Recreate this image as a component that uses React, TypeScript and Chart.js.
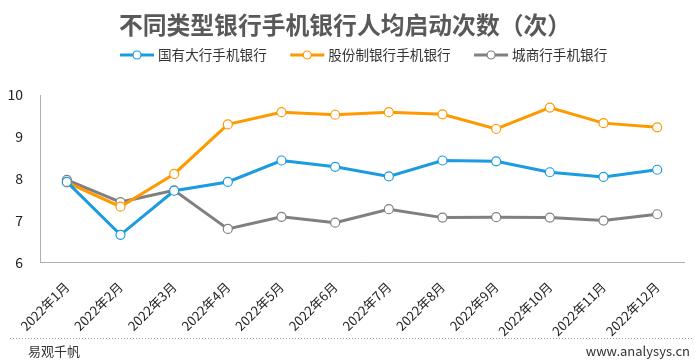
import React, { useEffect, useRef } from "react";
import { Chart, registerables } from "chart.js";
Chart.register(...registerables);

const categories = ["2022年1月","2022年2月","2022年3月","2022年4月","2022年5月","2022年6月","2022年7月","2022年8月","2022年9月","2022年10月","2022年11月","2022年12月"];
const stateBanks = [7.93, 6.67, 7.72, 7.93, 8.44, 8.29, 8.06, 8.44, 8.42, 8.16, 8.05, 8.22];
const jointBanks = [7.92, 7.34, 8.12, 9.3, 9.59, 9.53, 9.59, 9.54, 9.19, 9.7, 9.33, 9.23];
const cityBanks = [7.98, 7.45, 7.73, 6.81, 7.1, 6.96, 7.28, 7.08, 7.09, 7.08, 7.01, 7.16];
const seriesNames = ["国有大行手机银行", "股份制银行手机银行", "城商行手机银行"];
const colors = ["#1b9be0", "#ff9900", "#808080"];
const yTicks = [6, 7, 8, 9, 10];
const titleText = "不同类型银行手机银行人均启动次数（次）";

export default function App() {
  const ref = useRef<HTMLCanvasElement>(null);
  useEffect(() => {
    document.body.style.margin = "0";
    const font = "'Noto Sans CJK SC', 'Noto Sans', sans-serif";
    const decor = {
      id: "decor",
      afterDraw(chart: any) {
        const ctx = chart.ctx;
        ctx.save();
        // title
        ctx.fillStyle = "#595959";
        ctx.font = "bold 23.8px " + font;
        ctx.textAlign = "center"; ctx.textBaseline = "middle";
        ctx.fillText(titleText, 345, 25);
        // legend
        ctx.font = "13.6px " + font;
        ctx.textAlign = "left";
        let x = 120;
        const y = 55;
        seriesNames.forEach((n, i) => {
          ctx.strokeStyle = colors[i]; ctx.lineWidth = 3;
          ctx.beginPath(); ctx.moveTo(x, y); ctx.lineTo(x + 34, y); ctx.stroke();
          ctx.fillStyle = "#fff"; ctx.lineWidth = 1.2;
          ctx.beginPath(); ctx.arc(x + 17, y, 4, 0, Math.PI * 2); ctx.fill(); ctx.stroke();
          ctx.fillStyle = "#333";
          ctx.fillText(n, x + 38, y);
          x += 38 + ctx.measureText(n).width + 23.5;
        });
        // footer
        ctx.strokeStyle = "#9a9a9a"; ctx.lineWidth = 1; ctx.setLineDash([1, 2]);
        ctx.beginPath(); ctx.moveTo(10, 338.5); ctx.lineTo(692, 338.5); ctx.stroke();
        ctx.setLineDash([]);
        ctx.fillStyle = "#333"; ctx.font = "13px " + font; ctx.textBaseline = "middle";
        ctx.textAlign = "left"; ctx.fillText("易观千帆", 28, 351);
        ctx.textAlign = "right"; ctx.fillText("www.analysys.cn", 690, 351);
        ctx.restore();
      },
    };
    const data = [stateBanks, jointBanks, cityBanks];
    const chart = new Chart(ref.current!, {
      type: "line",
      data: {
        labels: categories,
        datasets: data.map((d, i) => ({
          label: seriesNames[i],
          data: d,
          borderColor: colors[i],
          backgroundColor: "#ffffff",
          borderWidth: 3,
          pointRadius: 4.5,
          pointBorderWidth: 1.2,
          pointBackgroundColor: "#ffffff",
          pointBorderColor: colors[i],
          tension: 0,
        })),
      },
      options: {
        animation: false,
        responsive: false,
        layout: { padding: { left: 0, right: 16, top: 95, bottom: 14 } },
        plugins: {
          title: { display: false },
          legend: { display: false },
          tooltip: { enabled: false },
        },
        scales: {
          x: {
            offset: true,
            grid: { display: false },
            border: { display: true, color: "#b0b0b0", width: 1 },
            ticks: {
              color: "#222", maxRotation: 45, minRotation: 45, autoSkip: false,
              font: { family: font, size: 13 }, padding: 8,
            },
          },
          y: {
            min: 6, max: 10,
            afterFit: (s: any) => { s.width = 40; },
            afterBuildTicks: (s: any) => { s.ticks = yTicks.map((v) => ({ value: v })); },
            grid: { display: false },
            border: { display: true, color: "#b0b0b0", width: 1 },
            ticks: { color: "#222", font: { family: font, size: 14 }, padding: 9 },
          },
        },
      } as any,
      plugins: [decor],
    });
    return () => chart.destroy();
  }, []);
  return (
    <div style={{ width: 700, height: 361, background: "#fff" }}>
      <canvas ref={ref} width={700} height={361} />
    </div>
  );
}
